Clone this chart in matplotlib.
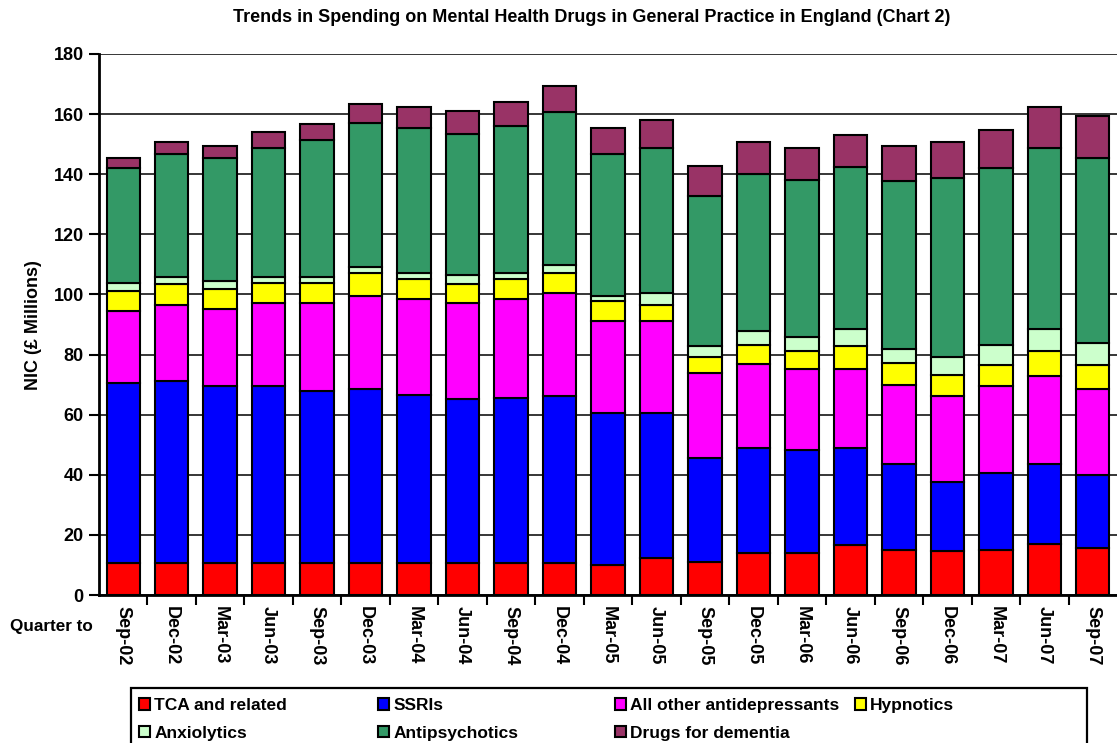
import numpy as np
import matplotlib
matplotlib.use("Agg")
import matplotlib.pyplot as plt
from matplotlib.patches import Patch, Rectangle

plt.rcParams['font.family'] = ['Liberation Sans', 'DejaVu Sans']
plt.rcParams['font.weight'] = 'bold'

# DATA (NIC, £ millions)
quarters = ['Sep-02', 'Dec-02', 'Mar-03', 'Jun-03', 'Sep-03', 'Dec-03', 'Mar-04',
            'Jun-04', 'Sep-04', 'Dec-04', 'Mar-05', 'Jun-05', 'Sep-05', 'Dec-05',
            'Mar-06', 'Jun-06', 'Sep-06', 'Dec-06', 'Mar-07', 'Jun-07', 'Sep-07']
tca = [10.5, 10.5, 10.5, 10.5, 10.5, 10.5, 10.5, 10.5, 10.5, 10.5, 9.9,
       12.3, 11.1, 13.9, 13.9, 16.5, 15.1, 14.5, 15.1, 17.1, 15.7]
ssris = [60.2, 60.8, 58.9, 58.9, 57.5, 58.1, 56.2, 54.7, 55.0, 55.6, 50.8,
         48.4, 34.6, 35.0, 34.4, 32.4, 28.6, 23.2, 25.4, 26.6, 24.2]
other_ad = [23.7, 25.3, 25.8, 27.6, 29.0, 31.0, 31.7, 31.8, 32.9, 34.4, 30.6,
            30.6, 28.2, 27.8, 27.0, 26.3, 26.3, 28.5, 28.9, 29.0, 28.7]
hypnotics = [6.8, 7.0, 6.5, 6.9, 6.9, 7.5, 6.7, 6.6, 6.7, 6.6, 6.5,
             5.3, 5.2, 6.4, 6.0, 7.5, 7.3, 7.1, 7.0, 8.6, 7.8]
anxiolytics = [2.7, 2.1, 2.8, 1.8, 1.8, 2.0, 2.0, 2.9, 2.0, 2.6, 1.8,
               3.9, 3.6, 4.7, 4.5, 5.8, 4.6, 6.0, 6.9, 7.2, 7.5]
antipsychotics = [38.2, 41.0, 41.0, 43.1, 45.6, 48.1, 48.3, 46.9, 48.9, 50.9, 47.1,
                  48.3, 50.2, 52.3, 52.3, 53.8, 55.8, 59.6, 58.8, 60.3, 61.6]
dementia = [3.4, 4.0, 4.0, 5.4, 5.5, 6.2, 6.8, 7.8, 8.0, 8.7, 8.7,
            9.4, 9.9, 10.6, 10.7, 10.7, 11.8, 11.8, 12.7, 13.4, 13.9]

series_names = ['TCA and related', 'SSRIs', 'All other antidepressants', 'Hypnotics',
                'Anxiolytics', 'Antipsychotics', 'Drugs for dementia']
series_vals = [tca, ssris, other_ad, hypnotics, anxiolytics, antipsychotics, dementia]
colors = ['#FF0000', '#0000FF', '#FF00FF', '#FFFF00', '#CCFFCC', '#339966', '#993366']

W, H = 1117, 743
fig = plt.figure(figsize=(W / 100, H / 100), dpi=100)
ax = fig.add_axes([99 / W, (H - 595) / H, 1 - 99 / W, (595 - 54) / H])

x = np.arange(len(quarters))
bottom = np.zeros(len(quarters))
for name, vals, c in zip(series_names, series_vals, colors):
    ax.bar(x, vals, width=0.69, bottom=bottom, color=c, edgecolor='black',
           linewidth=1.5, label=name, zorder=3)
    bottom += np.array(vals)

ax.set_xlim(-0.5, len(quarters) - 0.5)
ax.set_ylim(0, 180)
ax.set_yticks(np.arange(0, 181, 20))
ax.yaxis.grid(True, color='black', linewidth=1.1, zorder=0)
ax.set_axisbelow(True)
for lab in ax.get_yticklabels():
    lab.set_fontweight('bold')
ax.tick_params(axis='y', direction='out', length=7, width=1.5, labelsize=13, pad=4)

ax.set_xticks(x)
ax.set_xticklabels(quarters, rotation=270, fontsize=13, fontweight='bold', va='top', ha='center')
ax.set_xticks(np.arange(0.5, len(quarters) - 1, 1.0), minor=True)
ax.tick_params(axis='x', which='major', length=0, pad=8)
ax.tick_params(axis='x', which='minor', direction='out', length=7, width=1.5)

for side in ['left', 'bottom']:
    ax.spines[side].set_linewidth(2)
ax.spines['right'].set_visible(False)
ax.spines['top'].set_visible(False)

fig.text(592 / W, 1 - 18 / H,
         'Trends in Spending on Mental Health Drugs in General Practice in England (Chart 2)',
         ha='center', va='center', fontsize=13, fontweight='bold')
fig.text(33 / W, 1 - 325 / H, 'NIC (\u00a3 Millions)', rotation=90,
         ha='center', va='center', fontsize=13, fontweight='bold')
fig.text(10 / W, 1 - 627 / H, 'Quarter to', ha='left', va='center',
         fontsize=12.3, fontweight='bold')

# legend: boxed, four columns filled row by row
fig.patches.append(Rectangle((131 / W, -0.05), (1087 - 131) / W, 0.05 + (H - 688) / H,
                             transform=fig.transFigure, fill=False, edgecolor='black',
                             linewidth=1.6, clip_on=False))
col_x = [139, 378, 615, 855]
cols = [[0, 4], [1, 5], [2, 6], [3]]
for cx, idx in zip(col_x, cols):
    handles = [Patch(facecolor=colors[i], edgecolor='black', linewidth=1.5) for i in idx]
    labels = [series_names[i] for i in idx]
    fig.legend(handles, labels, loc='upper left', bbox_to_anchor=(cx / W, 1 - 698 / H),
               frameon=False, prop={'weight': 'bold', 'size': 12.5},
               handlelength=0.62, handleheight=0.62, handletextpad=0.25,
               borderpad=0, borderaxespad=0, labelspacing=0.74)

fig.savefig('out.png', dpi=100)
